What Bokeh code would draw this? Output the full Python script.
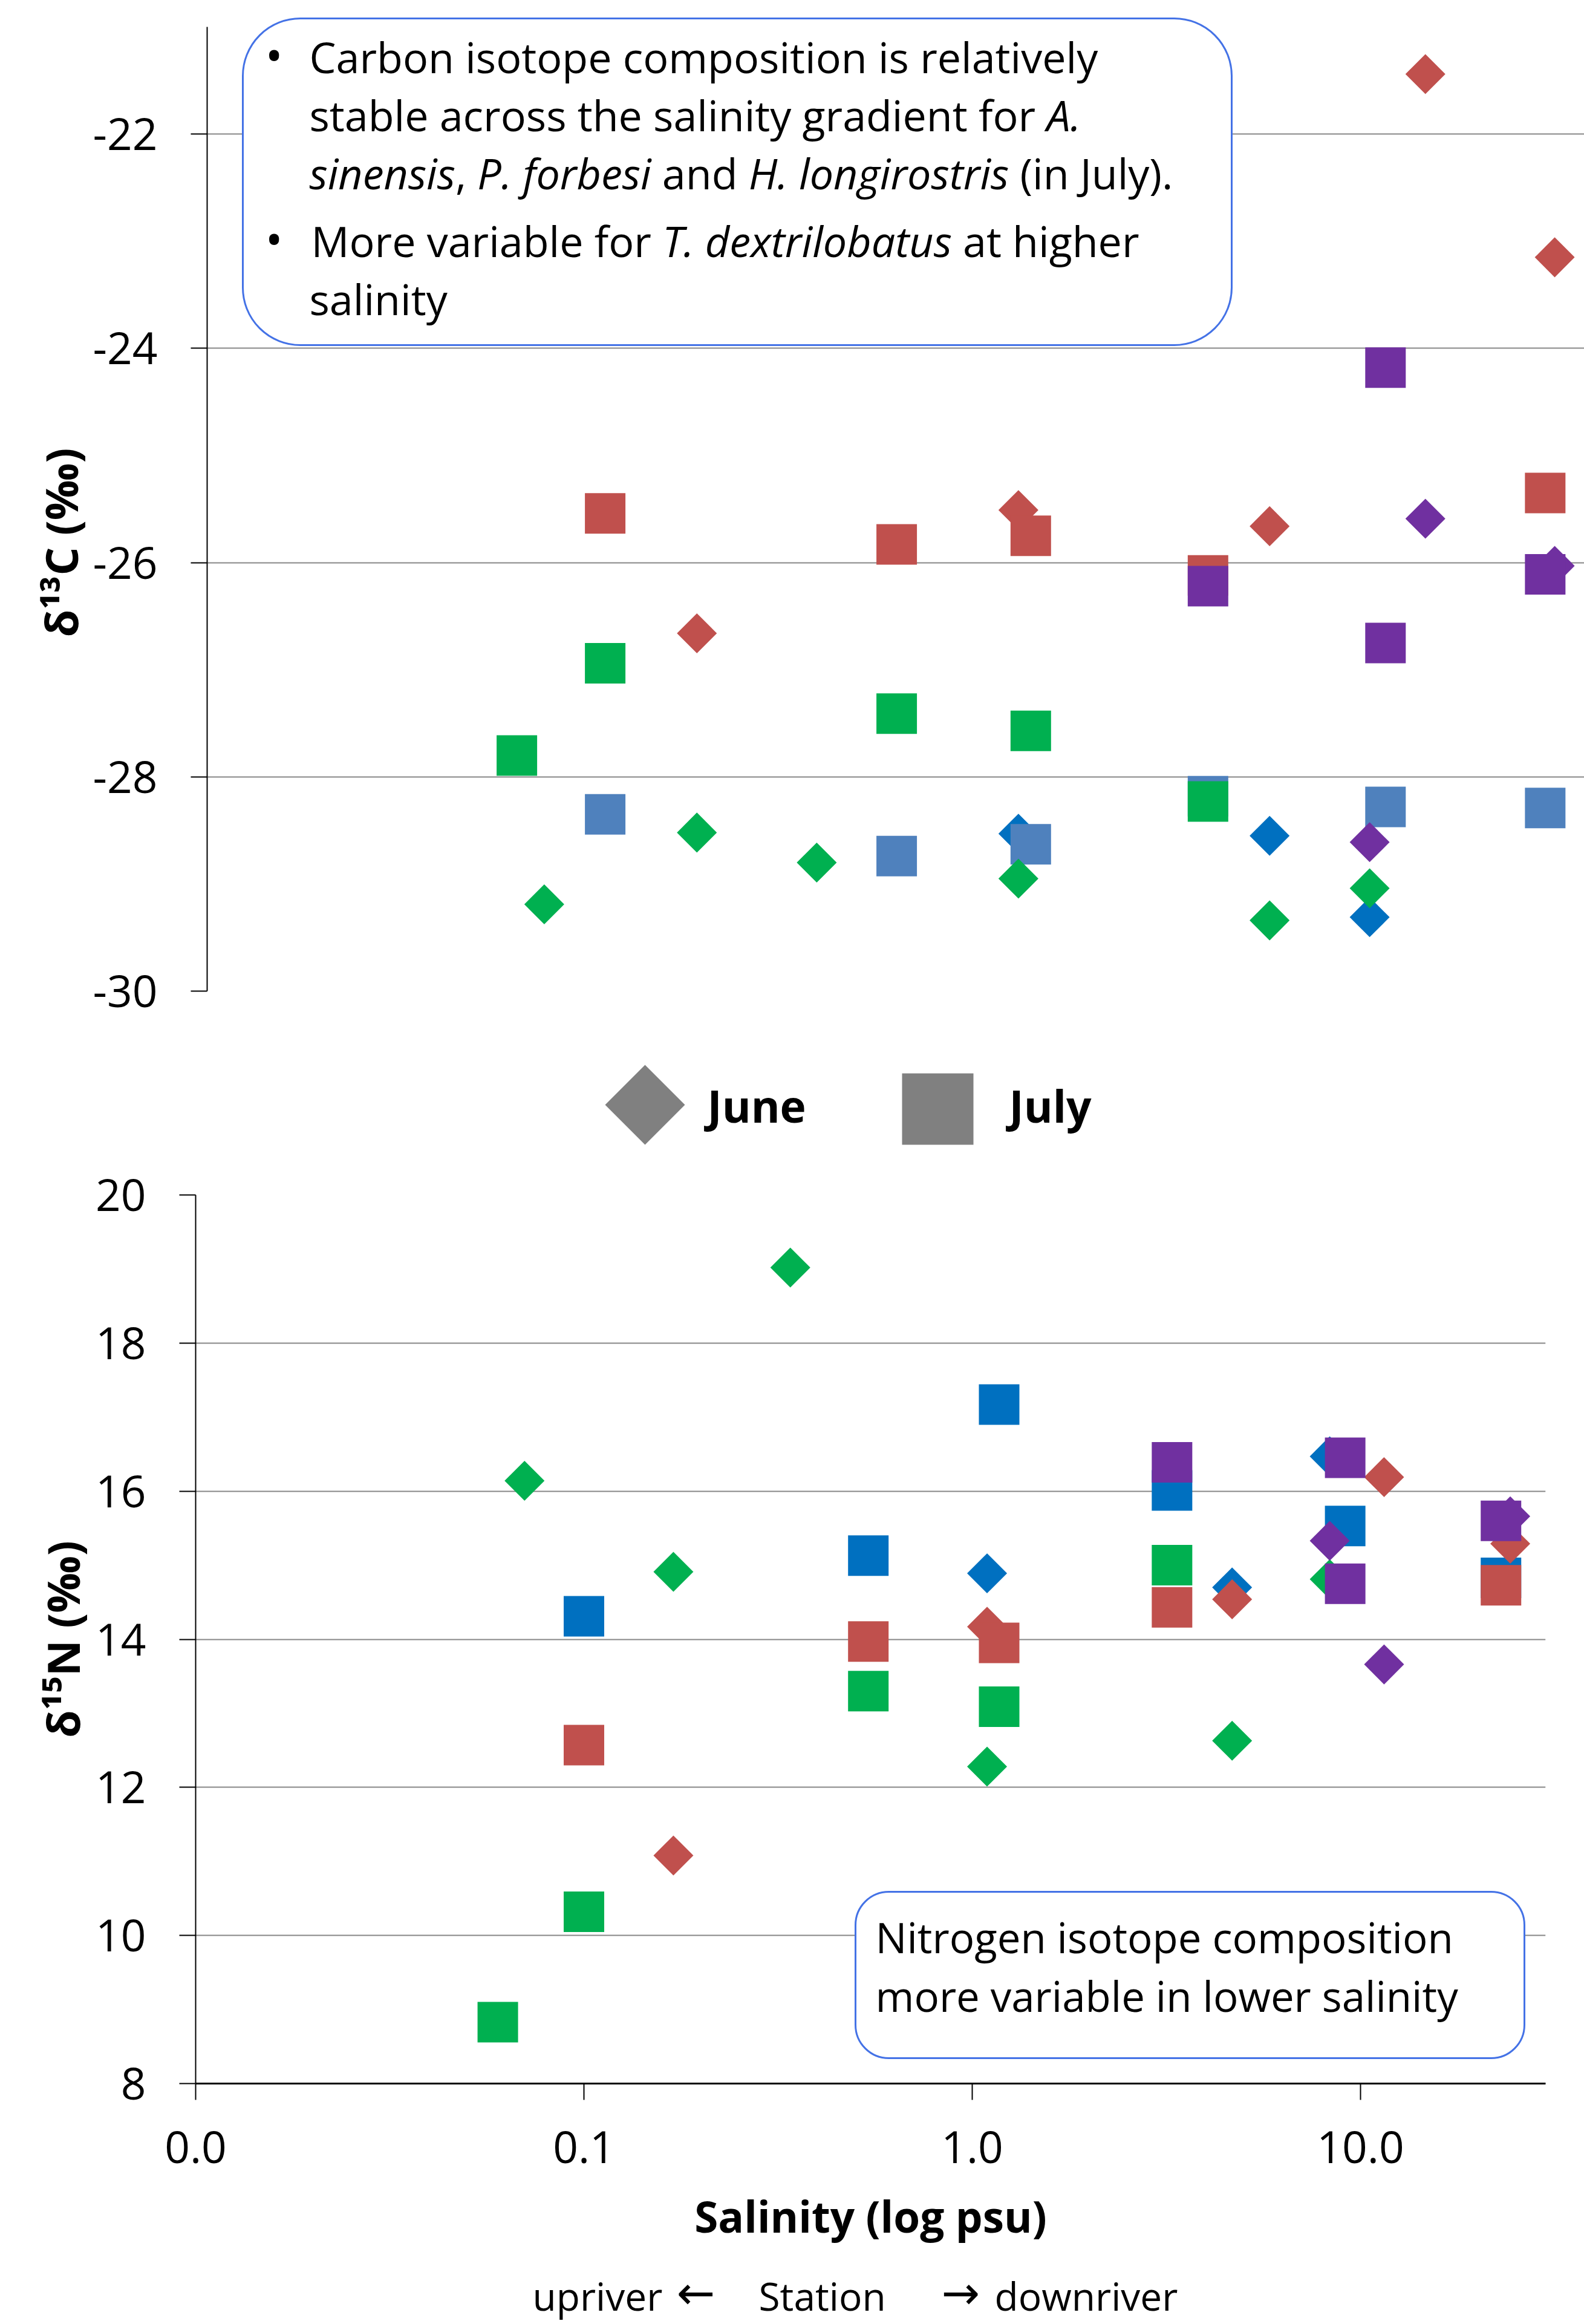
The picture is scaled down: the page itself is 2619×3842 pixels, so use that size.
import math
import os
from bokeh.plotting import figure
from bokeh.models import (ColumnDataSource, FixedTicker, CustomJSTickFormatter,
                          BoxAnnotation, Label, Range1d, Title)
from bokeh.embed import file_html
from bokeh.resources import INLINE

# ---------------- data ----------------
# salinity (psu) of the sampling stations and isotope values per taxon / month
sal_june_blue = [1.092, 4.67, 8.33]
d13c_june_blue = [-28.53, -28.55, -29.31]
d15n_june_blue = [14.89, 14.70, 16.47]

sal_july_blue = [0.100, 0.540, 1.173, 3.27, 9.13, 23.0]
d13c_july_blue = [-28.35, -28.74, -28.63, -28.18, -28.28, -28.29]
d15n_july_blue = [14.31, 15.13, 17.17, 16.01, 15.53, 14.83]

sal_june_red = [0.170, 1.092, 4.67, 11.5, 24.3]
d13c_june_red = [-26.66, -25.51, -25.66, -21.44, -23.15]
d15n_june_red = [11.08, 14.17, 14.54, 16.19, 15.29]

sal_july_red = [0.100, 0.540, 1.173, 3.27, 23.0]
d13c_july_red = [-25.54, -25.83, -25.75, -26.12, -25.35]
d15n_july_red = [12.57, 13.97, 13.95, 14.43, 14.73]

sal_june_green = [0.0703, 0.170, 0.340, 1.092, 4.67, 8.33]
d13c_june_green = [-29.19, -28.52, -28.80, -28.95, -29.34, -29.04]
d15n_june_green = [16.14, 14.91, 19.02, 12.28, 12.63, 14.81]

sal_july_green = [0.060, 0.100, 0.540, 1.173, 3.27]
d13c_july_green = [-27.80, -26.94, -27.41, -27.57, -28.23]
d15n_july_green = [8.83, 10.32, 13.30, 13.09, 15.00]

sal_june_purple = [8.33, 11.5, 24.3]
d13c_june_purple = [-28.61, -25.59, -26.03]
d15n_june_purple = [15.33, 13.66, 15.66]

sal_july_purple = [3.27, 9.13, 9.13, 23.0]
d13c_july_purple = [-26.22, -24.18, -26.75, -26.11]
d15n_july_purple = [16.39, 14.75, 16.45, 15.60]

c_ticks = [-30, -28, -26, -24, -22]
n_ticks = [8, 10, 12, 14, 16, 18, 20]
sal_ticks = [0.01, 0.1, 1, 10]

# ---------------- styles ----------------
GREEN = "#00B050"
RED = "#C0504D"
BLUE = "#0070C0"
STEEL = "#4F81BD"
PURPLE = "#7030A0"
GREY = "#808080"
GRID = "#878787"
BOX_BLUE = "#4472E6"
FONT = "Open Sans"
ARROW_FONT = "DejaVu Sans"

DIAMOND_SIZE = 46.7   # rotated square, diagonal ~66 px
SQUARE_SIZE = 67
BASE_FIX = 0.41       # label anchor correction (fraction of font size)

# ---------------- layout (page pixels, page starts at 0,0) ----------------
PAGE_W = 2619
TOP_Y0, TOP_Y1 = 0, 1700
MID_Y0, MID_Y1 = 1700, 1915
BOT_Y0, BOT_Y1 = 1915, 3740
STR_Y0, STR_Y1 = 3740, 3842

T_LEFT, T_TOP, T_BOT, T_RIGHT = 342, 20, 1638, 2619
T_DEC, T_UNIT = 658.1, 177.1
B_LEFT, B_TOP, B_BOT, B_RIGHT = 323, 1975, 3444, 2555
B_DEC = 642.0
B_UNIT = (B_BOT - B_TOP) / 12.0


def tx(px):
    return 10 ** (-2 + (px - T_LEFT) / T_DEC)


def ty(py):
    return -30 + (T_BOT - py) / T_UNIT


def bx(px):
    return 10 ** (-2 + (px - B_LEFT) / B_DEC)


def by(py):
    return 8 + (B_BOT - py) / B_UNIT


# ---------- optional text measurement (for flowing mixed-style runs) ----------
def _font_files():
    out = []
    for d in ["/usr/share/fonts", "/usr/local/share/fonts",
              os.path.expanduser("~/.fonts"), os.path.expanduser("~/.local/share/fonts")]:
        if os.path.isdir(d):
            for root, _, names in os.walk(d):
                for n in names:
                    ln = n.lower()
                    if ln.startswith("opensans") and ln.endswith((".ttf", ".otf")):
                        out.append(os.path.join(root, n))
    return sorted(out)


def _pick(files, italic):
    bad = ("bold", "light", "semi", "medium", "condensed", "extra")
    for f in files:
        stem = os.path.basename(f).lower().split("[")[0]
        if any(b in stem for b in bad):
            continue
        if italic != ("italic" in stem):
            continue
        return f
    return None


_MEASURE = {}
try:
    from PIL import ImageFont
    _files = _font_files()
    _reg = _pick(_files, False)
    _ita = _pick(_files, True) or _reg
    if _reg:
        _MEASURE = {"normal": _reg, "italic": _ita}
except Exception:
    _MEASURE = {}


def text_width(txt, style, size):
    path = _MEASURE.get(style)
    if not path:
        return None
    try:
        return ImageFont.truetype(path, size).getlength(txt)
    except Exception:
        return None


def style_fig(p):
    p.background_fill_color = "white"
    p.border_fill_color = "white"
    p.outline_line_color = None


def style_yaxis(ax, ticks, bounds):
    ax.ticker = FixedTicker(ticks=ticks, minor_ticks=[])
    ax.formatter = CustomJSTickFormatter(code="return tick.toFixed(0);")
    ax.bounds = bounds
    ax.axis_line_color = "black"
    ax.axis_line_width = 2
    ax.major_tick_line_color = "black"
    ax.major_tick_line_width = 2
    ax.major_tick_out = 27
    ax.major_tick_in = 0
    ax.minor_tick_line_color = None
    ax.major_label_standoff = 55
    ax.major_label_text_font = FONT
    ax.major_label_text_font_size = "73px"
    ax.major_label_text_color = "black"


def blank_fig(y0, y1):
    p = figure(width=PAGE_W, height=y1 - y0, x_range=Range1d(0, PAGE_W),
               y_range=Range1d(0, y1 - y0), x_axis_location=None, y_axis_location=None,
               output_backend="svg", toolbar_location=None, min_border=0)
    style_fig(p)
    for g in list(p.xgrid) + list(p.ygrid):
        g.visible = False
    return p


def add_text_line(p, fx, fy, start_px, base_py, runs, size):
    """Place a line of mixed-style runs; runs = [(text, style, ref_px), ...]."""
    cur = start_px
    for txt, st, ref_px in runs:
        w = text_width(txt, st, size)
        xpos = cur if w is not None else ref_px
        p.add_layout(Label(x=fx(xpos), y=fy(base_py - BASE_FIX * size), text=txt,
                           text_font=FONT, text_font_size=f"{size}px", text_font_style=st,
                           text_color="black", text_align="left",
                           text_baseline="alphabetic"))
        if w is not None:
            cur = xpos + w


# ================= top panel: d13C =================
top = figure(width=PAGE_W, height=TOP_Y1 - TOP_Y0, x_axis_type="log",
             x_range=Range1d(0.01, tx(T_RIGHT)), y_range=Range1d(-30, ty(T_TOP)),
             x_axis_location=None, output_backend="svg", toolbar_location=None,
             min_border_left=T_LEFT, min_border_right=PAGE_W - T_RIGHT,
             min_border_top=T_TOP - TOP_Y0, min_border_bottom=TOP_Y1 - T_BOT)
style_fig(top)
style_yaxis(top.yaxis[0], c_ticks, (-30, -21))
for g in top.xgrid:
    g.visible = False
top.ygrid.ticker = FixedTicker(ticks=c_ticks, minor_ticks=[])
top.ygrid.grid_line_color = GRID
top.ygrid.grid_line_width = 2

top_series = [
    (sal_june_blue, d13c_june_blue, BLUE, "june"),
    (sal_july_blue, d13c_july_blue, STEEL, "july"),
    (sal_june_red, d13c_june_red, RED, "june"),
    (sal_july_red, d13c_july_red, RED, "july"),
    (sal_june_green, d13c_june_green, GREEN, "june"),
    (sal_july_green, d13c_july_green, GREEN, "july"),
    (sal_june_purple, d13c_june_purple, PURPLE, "june"),
    (sal_july_purple, d13c_july_purple, PURPLE, "july"),
]
for xs, ys, col, month in top_series:
    if month == "june":
        top.scatter(xs, ys, marker="square", size=DIAMOND_SIZE, angle=math.pi / 4,
                    fill_color=col, line_color=None)
    else:
        top.scatter(xs, ys, marker="square", size=SQUARE_SIZE,
                    fill_color=col, line_color=None)

top.add_layout(BoxAnnotation(left=tx(401), right=tx(2036), top=ty(30), bottom=ty(570),
                             border_radius=95, fill_color="white", fill_alpha=1.0,
                             line_color=BOX_BLUE, line_alpha=1.0, line_width=3))

BOX1_SIZE = 70
box1_lines = [
    (511, 122.5, [("Carbon isotope composition is relatively", "normal", 511)]),
    (511, 218, [("stable across the salinity gradient for ", "normal", 511),
                ("A.", "italic", 1714)]),
    (511, 314.6, [("sinensis", "italic", 511), (", ", "normal", 757),
                  ("P. forbesi ", "italic", 800), ("and ", "normal", 1111),
                  ("H. longirostris ", "italic", 1250), ("(in July).", "normal", 1716)]),
    (514, 426, [("More variable for ", "normal", 514), ("T. dextrilobatus ", "italic", 1100),
                ("at higher", "normal", 1612)]),
    (511, 522, [("salinity", "normal", 511)]),
]
for sx, py, runs in box1_lines:
    add_text_line(top, tx, ty, sx, py, runs, BOX1_SIZE)
for py in (122.5, 426):
    top.add_layout(Label(x=tx(438), y=ty(py - BASE_FIX * 78), text="\u2022", text_font=FONT,
                         text_font_size="78px", text_color="black", text_align="left",
                         text_baseline="alphabetic"))

top.add_layout(Title(text="\u03b4\u00b9\u00b3C (\u2030)", align="left", offset=T_BOT - 1053,
                     standoff=0, text_font=FONT, text_font_size="74px",
                     text_font_style="bold", text_color="black"), "left")

# ================= legend strip =================
mid = blank_fig(MID_Y0, MID_Y1)


def my(py):
    return MID_Y1 - py


legend_src = ColumnDataSource(dict(
    x=[1066, 1550], y=[my(1826), my(1833)],
    angle=[math.pi / 4, 0.0], size=[93.3, 118.0]))
mid.scatter("x", "y", source=legend_src, marker="square", angle="angle", size="size",
            fill_color=GREY, line_color=None)
for px, txt in [(1169, "June"), (1668, "July")]:
    mid.add_layout(Label(x=px, y=my(1857 - BASE_FIX * 73), text=txt, text_font=FONT,
                         text_font_size="73px", text_font_style="bold", text_color="black",
                         text_align="left", text_baseline="alphabetic"))

# ================= bottom panel: d15N =================
bot = figure(width=PAGE_W, height=BOT_Y1 - BOT_Y0, x_axis_type="log",
             x_range=Range1d(0.01, bx(B_RIGHT)), y_range=Range1d(8, 20),
             output_backend="svg", toolbar_location=None,
             min_border_left=B_LEFT, min_border_right=PAGE_W - B_RIGHT,
             min_border_top=B_TOP - BOT_Y0, min_border_bottom=BOT_Y1 - B_BOT)
style_fig(bot)
style_yaxis(bot.yaxis[0], n_ticks, (8, 20))
bot.yaxis.axis_label = "\u03b4\u00b9\u2075N (\u2030)"
bot.yaxis.axis_label_standoff = 1
bot.yaxis.axis_label_text_font = FONT
bot.yaxis.axis_label_text_font_size = "74px"
bot.yaxis.axis_label_text_font_style = "bold"
bot.yaxis.axis_label_text_color = "black"

xa = bot.xaxis[0]
xa.ticker = FixedTicker(ticks=sal_ticks, minor_ticks=[])
xa.formatter = CustomJSTickFormatter(code="return tick.toFixed(1);")
xa.axis_line_color = "black"
xa.axis_line_width = 3
xa.major_tick_line_color = "black"
xa.major_tick_line_width = 2
xa.major_tick_out = 27
xa.major_tick_in = 0
xa.minor_tick_line_color = None
xa.major_label_standoff = 51
xa.major_label_text_font = FONT
xa.major_label_text_font_size = "73px"
xa.major_label_text_color = "black"
xa.axis_label = "Salinity (log psu)"
xa.axis_label_standoff = 36
xa.axis_label_text_font = FONT
xa.axis_label_text_font_size = "71px"
xa.axis_label_text_font_style = "bold"
xa.axis_label_text_color = "black"

for g in bot.xgrid:
    g.visible = False
bot.ygrid.ticker = FixedTicker(ticks=n_ticks, minor_ticks=[])
bot.ygrid.grid_line_color = GRID
bot.ygrid.grid_line_width = 2

bot_series = [
    (sal_june_blue, d15n_june_blue, BLUE, "june"),
    (sal_july_blue, d15n_july_blue, BLUE, "july"),
    (sal_june_red, d15n_june_red, RED, "june"),
    (sal_july_red, d15n_july_red, RED, "july"),
    (sal_june_green, d15n_june_green, GREEN, "june"),
    (sal_july_green, d15n_july_green, GREEN, "july"),
    (sal_june_purple, d15n_june_purple, PURPLE, "june"),
    (sal_july_purple, d15n_july_purple, PURPLE, "july"),
]
for xs, ys, col, month in bot_series:
    if month == "june":
        bot.scatter(xs, ys, marker="square", size=DIAMOND_SIZE, angle=math.pi / 4,
                    fill_color=col, line_color=None)
    else:
        bot.scatter(xs, ys, marker="square", size=SQUARE_SIZE,
                    fill_color=col, line_color=None)

bot.add_layout(BoxAnnotation(left=bx(1414), right=bx(2520), top=by(3127), bottom=by(3402),
                             border_radius=55, fill_color="white", fill_alpha=1.0,
                             line_color=BOX_BLUE, line_alpha=1.0, line_width=3))
for py, txt in [(3230, "Nitrogen isotope composition"), (3327, "more variable in lower salinity")]:
    add_text_line(bot, bx, by, 1447, py, [(txt, "normal", 1447)], 69)

# ================= station note strip =================
strip = blank_fig(STR_Y0, STR_Y1)
STATION_BASE = 3821
station_parts = [
    (880, "upriver", FONT, 64),
    (1118, "\u2190", ARROW_FONT, 76),
    (1254, "Station", FONT, 64),
    (1556, "\u2192", ARROW_FONT, 76),
    (1644, "downriver", FONT, 64),
]
for px, txt, fnt, sz in station_parts:
    strip.add_layout(Label(x=px, y=STR_Y1 - (STATION_BASE - BASE_FIX * sz), text=txt,
                           text_font=fnt, text_font_size=f"{sz}px", text_color="black",
                           text_align="left", text_baseline="alphabetic"))

open("out.html", "w").write(file_html([top, mid, bot, strip], INLINE))
